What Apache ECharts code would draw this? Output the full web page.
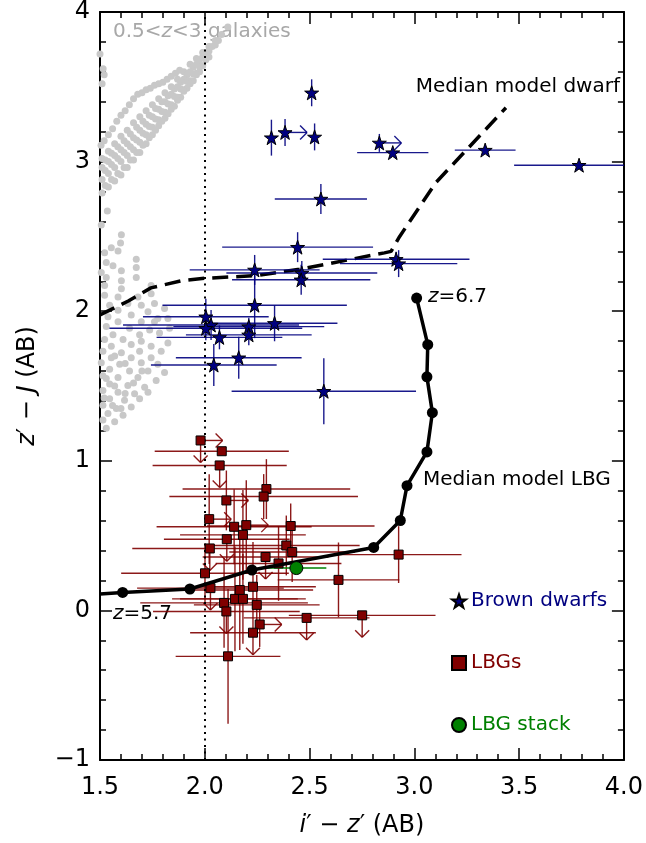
<!DOCTYPE html>
<html>
<head>
<meta charset="utf-8">
<script src="https://cdn.jsdelivr.net/npm/echarts@6/dist/echarts.min.js"></script>
<style>
html, body { margin: 0; padding: 0; background: #fff; }
#chart { width: 646px; height: 843px; }
</style>
</head>
<body>
<div id="chart"></div>
<script>
// brown dwarfs (i'-z', z'-J), symmetric errors, lim: 1 = arrow right
var bdX  = [2.51, 2.318, 2.383, 2.524, 2.554, 2.833, 2.897, 3.338, 3.786, 2.443, 2.238, 2.463, 2.46, 2.913, 2.925, 2.238, 2.005, 2.03, 2.005, 2.07, 2.21, 2.21, 2.333, 2.162, 2.043, 2.568];
var bdY  = [3.46, 3.16, 3.195, 3.165, 2.75, 3.125, 3.06, 3.077, 2.976, 2.428, 2.276, 2.255, 2.21, 2.347, 2.318, 2.04, 1.963, 1.908, 1.886, 1.825, 1.897, 1.842, 1.919, 1.689, 1.64, 1.465];
var bdXe = [0, 0, 0, 0, 0.22, 0, 0.17, 0.145, 0.31, 0.36, 0.31, 0.36, 0.33, 0.35, 0.28, 0.44, 0.30, 0.42, 0.46, 0.30, 0.36, 0.30, 0.30, 0.30, 0.30, 0.44];
var bdYe = [0.09, 0.12, 0.09, 0.09, 0.10, 0.06, 0.02, 0.02, 0.02, 0.10, 0.10, 0.08, 0.10, 0.05, 0.09, 0.22, 0.12, 0.10, 0.08, 0.08, 0.06, 0.07, 0.12, 0.14, 0.14, 0.22];
var bdLim = [0, 0, 1, 0, 0, 1, 0, 0, 0, 0, 0, 0, 0, 0, 0, 0, 0, 0, 0, 0, 0, 0, 0, 0, 0, 0];

// LBGs, lim: 1 = arrow right (limit in i'-z'), 2 = arrow down, 3 = both
var lbgX  = [1.980, 2.081, 2.071, 2.294, 2.281, 2.103, 2.021, 2.140, 2.198, 2.182, 2.105, 2.410, 2.024, 2.389, 2.417, 2.290, 2.352, 2.001, 2.925, 2.638, 2.027, 2.167, 2.230, 2.092, 2.144, 2.182, 2.248, 2.103, 2.486, 2.751, 2.262, 2.230, 2.111];
var lbgY  = [1.136, 1.064, 0.969, 0.811, 0.761, 0.735, 0.610, 0.559, 0.570, 0.505, 0.476, 0.564, 0.414, 0.434, 0.390, 0.357, 0.314, 0.248, 0.373, 0.204, 0.149, 0.136, 0.158, 0.050, 0.077, 0.077, 0.037, -0.007, -0.050, -0.033, -0.094, -0.149, -0.307];
var lbgXe = [0, 0.32, 0.32, 0.40, 0.45, 0, 0, 0.37, 0, 0.30, 0.30, 0.40, 0.37, 0.35, 0.30, 0.30, 0.30, 0.40, 0.30, 0.29, 0.35, 0.35, 0.30, 0.40, 0.30, 0.30, 0.30, 0.35, 0.30, 0.35, 0, 0.30, 0.25];
var lbgYe = [0, 0, 0, 0.20, 0.15, 0.20, 0.30, 0.25, 0.30, 0.30, 0, 0.15, 0, 0.20, 0.20, 0, 0.25, 0.20, 0.19, 0.25, 0, 0.40, 0.30, 0.30, 0.35, 0.30, 0.20, 0, 0, 0, 0.15, 0, 0.45];
var lbgLim = [3, 0, 2, 0, 0, 1, 1, 0, 1, 0, 2, 0, 2, 0, 0, 2, 0, 0, 0, 0, 2, 0, 0, 0, 0, 0, 0, 2, 2, 2, 1, 2, 0];

// LBG stack
var stackX = [2.437], stackY = [0.283], stackXe = [0.143], stackYe = [0.03];

// median model tracks
var lbgModelX = [1.50, 1.608, 1.929, 2.225, 2.806, 2.933, 2.965, 3.060, 3.086, 3.060, 3.064, 3.011];
var lbgModelY = [0.11, 0.120, 0.143, 0.270, 0.421, 0.601, 0.834, 1.059, 1.322, 1.561, 1.776, 2.088];
var dwarfModelX = [1.5, 1.635, 1.743, 1.889, 2.0, 2.238, 2.452, 2.857, 2.889, 2.93, 3.103, 3.183, 3.437];
var dwarfModelY = [1.975, 2.068, 2.156, 2.204, 2.22, 2.237, 2.28, 2.39, 2.40, 2.5, 2.86, 2.98, 3.36];

var zCut = 2.0;

// 0.5<z<3 galaxy tracks (upper fan)
var galUpper = [
  [1.505,3.11],[1.52,3.14],[1.54,3.18],[1.56,3.22],[1.58,3.27],[1.60,3.31],[1.62,3.34],[1.64,3.38],[1.66,3.42],[1.68,3.45],[1.70,3.46],[1.72,3.48],[1.74,3.49],[1.76,3.51],[1.78,3.52],[1.80,3.53],[1.82,3.55],[1.84,3.57],[1.86,3.59],[1.88,3.61],
  [1.51,3.02],[1.54,3.07],[1.57,3.12],[1.60,3.17],[1.63,3.21],[1.66,3.26],[1.69,3.30],[1.72,3.34],[1.75,3.38],[1.78,3.42],[1.81,3.46],[1.84,3.50],[1.87,3.55],[1.90,3.60],[1.93,3.65],[1.96,3.69],[1.99,3.73],[2.02,3.77],[2.05,3.81],[2.08,3.85],[2.11,3.90],
  [1.525,3.01],[1.555,3.055],[1.585,3.10],[1.615,3.14],[1.645,3.185],[1.675,3.23],[1.705,3.27],[1.735,3.31],[1.765,3.355],[1.795,3.40],[1.825,3.44],[1.855,3.485],[1.885,3.53],[1.915,3.58],[1.945,3.63],[1.975,3.68],[2.005,3.72],[2.035,3.77],[2.065,3.81],
  [1.51,2.96],[1.54,3.00],[1.57,3.04],[1.60,3.08],[1.63,3.12],[1.66,3.16],[1.69,3.21],[1.72,3.25],[1.75,3.30],[1.78,3.35],[1.81,3.40],[1.84,3.45],[1.87,3.50],[1.90,3.55],[1.93,3.60],[1.96,3.65],[1.99,3.70],[2.02,3.74],[2.05,3.78],
  [1.525,2.94],[1.555,2.98],[1.585,3.02],[1.615,3.06],[1.645,3.10],[1.675,3.145],[1.705,3.19],[1.735,3.235],[1.765,3.285],[1.795,3.335],[1.825,3.385],[1.855,3.435],[1.885,3.485],[1.915,3.535],[1.945,3.585],[1.975,3.635],[2.005,3.68],
  [1.51,2.88],[1.54,2.92],[1.57,2.96],[1.60,3.00],[1.63,3.04],[1.66,3.08],[1.69,3.13],[1.72,3.18],[1.75,3.23],[1.78,3.28],[1.81,3.33],[1.84,3.38],[1.87,3.43],[1.90,3.48],[1.93,3.54],[1.96,3.59],[1.99,3.64],[2.02,3.70],
  [1.525,2.84],[1.555,2.88],[1.585,2.92],[1.615,2.96],[1.645,3.01],[1.675,3.06],[1.705,3.11],[1.735,3.16],[1.765,3.21],[1.795,3.27],[1.825,3.32],[1.855,3.37],[1.885,3.43],[1.915,3.49],[1.945,3.54],[1.975,3.60],
  [1.51,2.79],[1.54,2.83],[1.57,2.87],[1.60,2.91],[1.63,2.96],[1.66,3.01],[1.69,3.06],[1.72,3.12],[1.75,3.18],[1.78,3.24],[1.81,3.29],[1.84,3.35],[1.87,3.41],[1.90,3.47],[1.93,3.52],[1.96,3.58],[1.99,3.64],
  [1.50,3.72],[1.515,3.62],[1.52,3.58],[1.51,3.52],[1.535,2.67]
];
// lower clump
var galLower = [
  [1.506,2.577],[1.602,2.511],[1.598,2.456],[1.554,2.424],[1.522,2.391],[1.586,2.402],[1.530,2.325],[1.562,2.303],[1.673,2.347],[1.506,2.259],
  [1.602,2.270],[1.673,2.292],[1.530,2.226],[1.673,2.226],[1.602,2.204],[1.522,2.171],[1.602,2.150],[1.744,2.171],[1.744,2.117],[1.522,2.106],
  [1.586,2.095],[1.681,2.095],[1.633,2.051],[1.760,2.051],[1.546,2.040],[1.697,2.040],[1.808,2.018],[1.586,2.007],[1.729,1.996],[1.538,1.963],
  [1.649,1.974],[1.776,1.952],[1.824,1.952],[1.586,1.930],[1.697,1.930],[1.760,1.930],[1.530,1.897],[1.641,1.886],[1.737,1.875],[1.832,1.886],
  [1.562,1.843],[1.689,1.843],[1.784,1.854],[1.522,1.810],[1.610,1.810],[1.697,1.799],[1.824,1.788],[1.554,1.766],[1.649,1.777],[1.744,1.766],
  [1.514,1.733],[1.602,1.722],[1.689,1.733],[1.792,1.733],[1.554,1.689],[1.649,1.689],[1.744,1.689],[1.506,1.656],[1.594,1.645],[1.697,1.656],
  [1.776,1.645],[1.546,1.612],[1.641,1.601],[1.729,1.601],[1.808,1.590],[1.514,1.568],[1.586,1.557],[1.681,1.557],[1.768,1.536],[1.546,1.514],
  [1.633,1.503],[1.713,1.492],[1.514,1.470],[1.586,1.459],[1.665,1.448],[1.729,1.459],[1.546,1.415],[1.617,1.404],[1.689,1.415],[1.514,1.371],
  [1.578,1.349],[1.649,1.360],[1.538,1.316],[1.610,1.305],[1.514,1.272],[1.570,1.261],[1.530,1.218],
  [1.53,1.55],[1.57,1.50],[1.62,1.45],[1.56,1.37],[1.60,1.35],[1.52,1.42],[1.66,1.52],[1.70,1.60],[1.62,1.65],[1.57,1.70]
];

var FONT = 'DejaVu Sans';
var STAR = 'path://M50,0 L61.8,35.1 L98.9,35.4 L69.1,57.5 L80.4,92.9 L50,71.4 L19.6,92.9 L30.9,57.5 L1.1,35.4 L38.2,35.1 Z';

function rows(xs, ys, xe, ye, lim) {
  var out = [];
  for (var i = 0; i < xs.length; i++) {
    out.push([xs[i], ys[i], xe[i], ye[i], lim ? lim[i] : 0]);
  }
  return out;
}
function pairs(xs, ys) {
  return xs.map(function (x, i) { return [x, ys[i]]; });
}

// error bars + limit arrows
function errRender(color, width) {
  return function (params, api) {
    var x = api.value(0), y = api.value(1), xe = api.value(2), ye = api.value(3), lim = api.value(4);
    var c = api.coord([x, y]);
    var st = { stroke: color, lineWidth: width };
    var kids = [];
    function seg(x1, y1, x2, y2) {
      kids.push({ type: 'line', shape: { x1: x1, y1: y1, x2: x2, y2: y2 }, style: st });
    }
    if (xe > 0) {
      var a = api.coord([x - xe, y]), b = api.coord([x + xe, y]);
      seg(a[0], a[1], b[0], b[1]);
    }
    if (ye > 0) {
      var p = api.coord([x, y + ye]), q = api.coord([x, y - ye]);
      seg(p[0], p[1], q[0], q[1]);
    }
    var L = 22, h = 7;
    if (lim & 1) {
      seg(c[0], c[1], c[0] + L, c[1]);
      seg(c[0] + L - h, c[1] - h, c[0] + L, c[1]);
      seg(c[0] + L - h, c[1] + h, c[0] + L, c[1]);
    }
    if (lim & 2) {
      seg(c[0], c[1], c[0], c[1] + L);
      seg(c[0] - h, c[1] + L - h, c[0], c[1] + L);
      seg(c[0] + h, c[1] + L - h, c[0], c[1] + L);
    }
    return { type: 'group', children: kids };
  };
}

var chart = echarts.init(document.getElementById('chart'), null, { renderer: 'canvas' });

var axisCommon = {
  type: 'value',
  axisLine: { onZero: false, lineStyle: { color: '#000', width: 2 } },
  axisTick: { inside: true, length: 12, lineStyle: { color: '#000', width: 1.5 } },
  minorTick: { show: true, splitNumber: 5, length: 6, lineStyle: { color: '#000', width: 1.5 } },
  splitLine: { show: false },
  minorSplitLine: { show: false }
};

var nameRich = { i: { fontStyle: 'italic', fontSize: 24, fontFamily: FONT, color: '#000' } };

var option = {
  animation: false,
  backgroundColor: '#fff',
  grid: { left: 100, right: 20, top: 9, bottom: 75 },
  xAxis: [
    Object.assign({}, axisCommon, {
      min: 1.5, max: 4.0, interval: 0.5, position: 'bottom',
      axisLabel: { fontSize: 24, fontFamily: FONT, color: '#000', margin: 16,
        formatter: function (v) { return v.toFixed(1); } },
      name: '{i|i}\u2032 \u2212 {i|z}\u2032 (AB)', nameLocation: 'middle', nameGap: 54,
      nameTextStyle: { fontSize: 24, fontFamily: FONT, color: '#000', rich: nameRich }
    }),
    Object.assign({}, axisCommon, {
      min: 1.5, max: 4.0, interval: 0.5, position: 'top', axisLabel: { show: false }
    })
  ],
  yAxis: [
    Object.assign({}, axisCommon, {
      min: -1, max: 4, interval: 1, position: 'left',
      axisLabel: { fontSize: 24, fontFamily: FONT, color: '#000', margin: 10,
        formatter: function (v) { return v < 0 ? '\u2212' + Math.abs(v) : String(v); } },
      name: '{i|z}\u2032 \u2212 {i|J} (AB)', nameLocation: 'middle', nameGap: 60,
      nameTextStyle: { fontSize: 24, fontFamily: FONT, color: '#000', rich: nameRich }
    }),
    Object.assign({}, axisCommon, {
      min: -1, max: 4, interval: 1, position: 'right', axisLabel: { show: false }
    })
  ],
  legend: {
    orient: 'vertical', left: 446, top: 586, itemGap: 42,
    itemWidth: 14, itemHeight: 14,
    textStyle: { fontSize: 20, fontFamily: FONT },
    data: [
      { name: 'Brown dwarfs', textStyle: { color: '#000080' } },
      { name: 'LBGs', textStyle: { color: '#800000' } },
      { name: 'LBG stack', textStyle: { color: '#008000' } }
    ]
  },
  graphic: [
    { type: 'text', x: 113, y: 32, silent: true, style: {
      text: '0.5<{i|z}<3 galaxies', fill: '#a8a8a8', font: '20px "DejaVu Sans"', verticalAlign: 'middle',
      rich: { i: { fontStyle: 'italic', fontSize: 20, fontFamily: FONT, fill: '#a8a8a8' } } } },
    { type: 'text', x: 620, y: 87, silent: true, style: {
      text: 'Median model dwarf', fill: '#000', font: '20px "DejaVu Sans"', align: 'right', verticalAlign: 'middle' } },
    { type: 'text', x: 423, y: 480, silent: true, style: {
      text: 'Median model LBG', fill: '#000', font: '20px "DejaVu Sans"', verticalAlign: 'middle' } },
    { type: 'text', x: 428, y: 297, silent: true, style: {
      text: '{i|z}=6.7', fill: '#000', font: '20px "DejaVu Sans"', verticalAlign: 'middle',
      rich: { i: { fontStyle: 'italic', fontSize: 20, fontFamily: FONT, fill: '#000' } } } },
    { type: 'text', x: 113, y: 614, silent: true, style: {
      text: '{i|z}=5.7', fill: '#000', font: '20px "DejaVu Sans"', verticalAlign: 'middle',
      rich: { i: { fontStyle: 'italic', fontSize: 20, fontFamily: FONT, fill: '#000' } } } }
  ],
  series: [
    {
      name: 'galaxies', type: 'scatter', z: 1, silent: true,
      symbol: 'circle', symbolSize: 7,
      itemStyle: { color: '#c8c8c8', opacity: 1 },
      data: galUpper.concat(galLower),
      markLine: {
        silent: true, symbol: 'none', label: { show: false },
        lineStyle: { color: '#000', width: 2, type: [2, 4.5] },
        data: [{ xAxis: zCut }]
      }
    },
    {
      name: 'dwarf model', type: 'line', z: 3, silent: true,
      showSymbol: false, symbol: 'none',
      lineStyle: { color: '#000', width: 3.5, type: [16, 8] },
      data: pairs(dwarfModelX, dwarfModelY)
    },
    {
      name: 'bd err', type: 'custom', z: 4, silent: true, clip: true,
      renderItem: errRender('rgba(0,0,128,0.9)', 1.4),
      data: rows(bdX, bdY, bdXe, bdYe, bdLim)
    },
    {
      name: 'lbg err', type: 'custom', z: 4, silent: true, clip: true,
      renderItem: errRender('rgba(128,0,0,0.9)', 1.4),
      data: rows(lbgX, lbgY, lbgXe, lbgYe, lbgLim)
    },
    {
      name: 'stack err', type: 'custom', z: 4, silent: true, clip: true,
      renderItem: errRender('#008000', 1.6),
      data: rows(stackX, stackY, stackXe, stackYe, null)
    },
    {
      name: 'Brown dwarfs', type: 'scatter', z: 5,
      symbol: STAR, symbolSize: 14,
      itemStyle: { color: '#000080', borderColor: '#000', borderWidth: 1, opacity: 1 },
      data: pairs(bdX, bdY)
    },
    {
      name: 'LBGs', type: 'scatter', z: 5,
      symbol: 'rect', symbolSize: 9,
      itemStyle: { color: '#800000', borderColor: '#000', borderWidth: 1, opacity: 1 },
      data: pairs(lbgX, lbgY)
    },
    {
      name: 'LBG model', type: 'line', z: 6, silent: true,
      symbol: 'circle', symbolSize: 11, showSymbol: true,
      lineStyle: { color: '#000', width: 3.5 },
      itemStyle: { color: '#000', opacity: 1 },
      data: pairs(lbgModelX, lbgModelY).map(function (p, i) {
        return i === 0 ? { value: p, symbol: 'none' } : p;
      })
    },
    {
      name: 'LBG stack', type: 'scatter', z: 7,
      symbol: 'circle', symbolSize: 13,
      itemStyle: { color: '#008000', borderColor: '#000', borderWidth: 1, opacity: 1 },
      data: pairs(stackX, stackY)
    }
  ]
};

chart.setOption(option);
</script>
</body>
</html>
